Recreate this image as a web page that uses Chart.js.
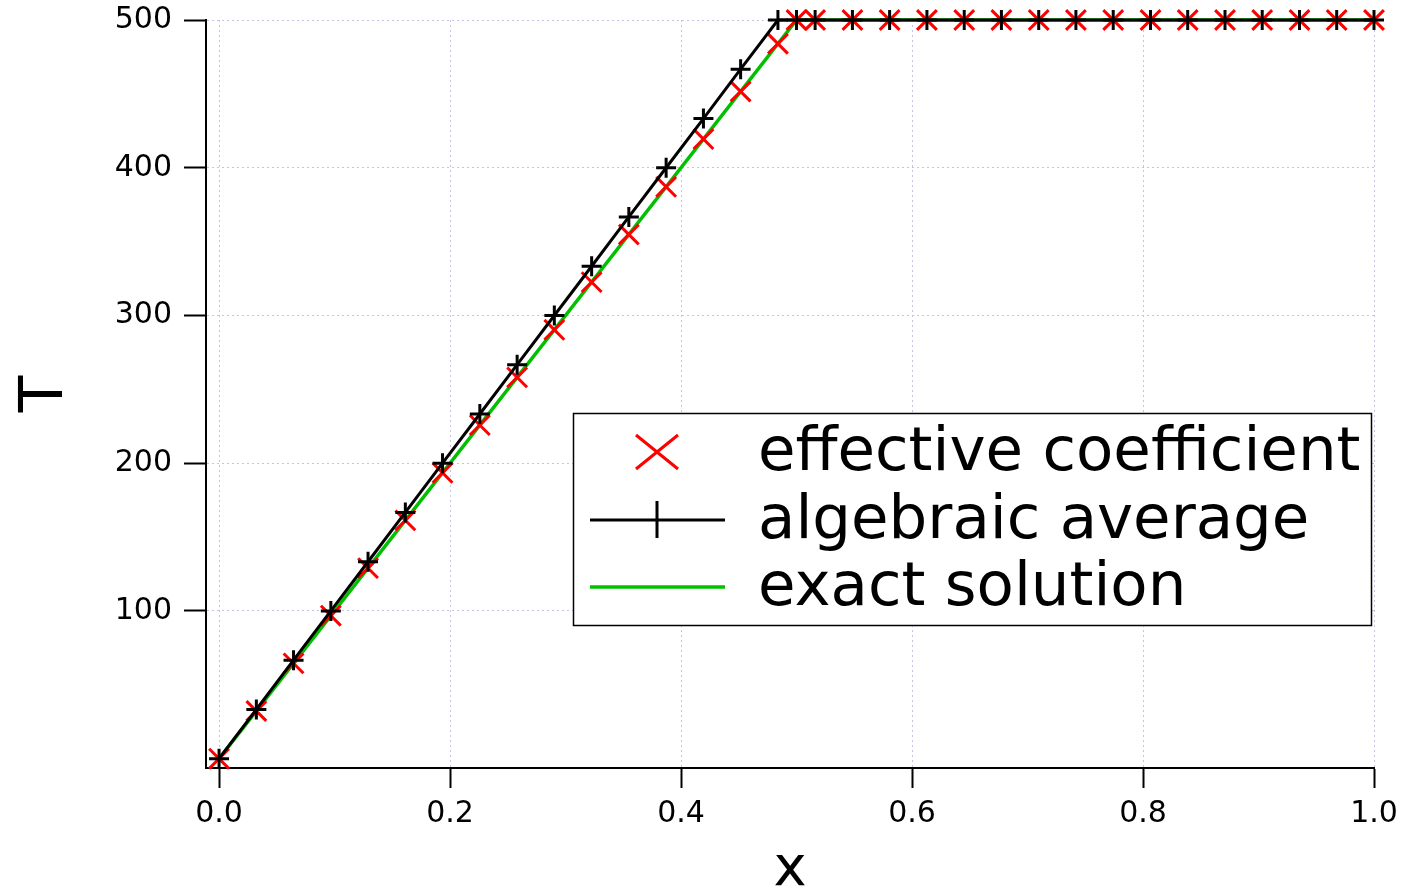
<!DOCTYPE html>
<html>
<head>
<meta charset="utf-8">
<script src="https://cdn.jsdelivr.net/npm/chart.js@4.4.0/dist/chart.umd.min.js"></script>
<style>
  html, body { margin: 0; padding: 0; background: #fff; }
  canvas { display: block; }
</style>
</head>
<body>
<canvas id="tChart" width="1406" height="889"></canvas>
<script>
// grid nodes (x) shared by the two numerical schemes
const xNodes = [0, 0.0323, 0.0645, 0.0968, 0.129, 0.1613, 0.1935, 0.2258, 0.2581, 0.2903,
  0.3226, 0.3548, 0.3871, 0.4194, 0.4516, 0.4839, 0.5, 0.5161, 0.5484, 0.5806, 0.6129,
  0.6452, 0.6774, 0.7097, 0.7419, 0.7742, 0.8065, 0.8387, 0.871, 0.9032, 0.9355, 0.9677, 1.0];

const effectiveT = [0, 32.3, 64.5, 96.8, 129, 161.3, 193.5, 225.8, 258.1, 290.3,
  322.6, 354.8, 387.1, 419.4, 451.6, 483.9, 500, 500, 500, 500, 500,
  500, 500, 500, 500, 500, 500, 500, 500, 500, 500, 500, 500];

const algebraicT = [0, 33.3, 66.7, 100, 133.3, 166.7, 200, 233.3, 266.7, 300,
  333.3, 366.7, 400, 433.3, 466.7, 500, 500, 500, 500, 500, 500,
  500, 500, 500, 500, 500, 500, 500, 500, 500, 500, 500, 500];

const exactX = [0, 0.5, 1.0];
const exactT = [0, 500, 500];

const xTicks = [0, 0.2, 0.4, 0.6, 0.8, 1.0];
const yTicks = [100, 200, 300, 400, 500];

const legendLabels = ['effective coefficient', 'algebraic average', 'exact solution'];

const FONT = '"DejaVu Sans", Verdana, sans-serif';
const GRID = '#c4c4e4';

function toPoints(xs, ys) {
  return xs.map((x, i) => ({ x: x, y: ys[i] }));
}

// legend drawn inside the plot, framed box on the right
const boxLegend = {
  id: 'boxLegend',
  afterDraw(chart) {
    const ctx = chart.ctx;
    ctx.save();
    ctx.fillStyle = '#fff';
    ctx.fillRect(573, 413, 799, 213);
    ctx.strokeStyle = '#000';
    ctx.lineWidth = 1.5;
    ctx.strokeRect(573.5, 413.5, 798, 212);

    // red x
    ctx.strokeStyle = '#ff0000';
    ctx.lineWidth = 3;
    ctx.beginPath();
    ctx.moveTo(636, 435); ctx.lineTo(678, 469);
    ctx.moveTo(636, 469); ctx.lineTo(678, 435);
    ctx.stroke();

    // black line with +
    ctx.strokeStyle = '#000';
    ctx.beginPath();
    ctx.moveTo(590, 520); ctx.lineTo(725, 520);
    ctx.moveTo(657, 501); ctx.lineTo(657, 538);
    ctx.stroke();

    // green line
    ctx.strokeStyle = '#00c000';
    ctx.lineWidth = 3.5;
    ctx.beginPath();
    ctx.moveTo(590, 587); ctx.lineTo(725, 587);
    ctx.stroke();

    ctx.fillStyle = '#000';
    ctx.font = '61px ' + FONT;
    ctx.textAlign = 'left';
    ctx.textBaseline = 'alphabetic';
    ctx.fillText(legendLabels[0], 758, 470);
    ctx.fillText(legendLabels[1], 758, 538);
    ctx.fillText(legendLabels[2], 758, 605);
    ctx.restore();
  }
};

const ctx = document.getElementById('tChart').getContext('2d');
const chart = new Chart(ctx, {
  type: 'scatter',
  data: {
    datasets: [
      {
        label: legendLabels[0],
        data: toPoints(xNodes, effectiveT),
        showLine: false,
        pointStyle: 'crossRot',
        pointRadius: 14,
        pointBorderWidth: 3,
        pointBorderColor: '#ff0000',
        borderColor: '#ff0000',
        clip: false,
        order: 1
      },
      {
        label: legendLabels[1],
        data: toPoints(xNodes, algebraicT),
        showLine: true,
        borderColor: '#000',
        borderWidth: 3,
        pointStyle: 'cross',
        pointRadius: 10,
        pointBorderWidth: 3,
        pointBorderColor: '#000',
        clip: false,
        order: 0
      },
      {
        label: legendLabels[2],
        data: toPoints(exactX, exactT),
        showLine: true,
        borderColor: '#00c000',
        borderWidth: 3.5,
        pointRadius: 0,
        clip: false,
        order: 2
      }
    ]
  },
  options: {
    responsive: false,
    animation: false,
    devicePixelRatio: 1,
    layout: { padding: { left: 0, top: 20, right: 32, bottom: 0 } },
    plugins: {
      legend: { display: false },
      tooltip: { enabled: false }
    },
    scales: {
      x: {
        type: 'linear',
        position: 'bottom',
        min: -0.0113,
        max: 1.0,
        afterBuildTicks: s => { s.ticks = xTicks.map(v => ({ value: v })); },
        afterFit: s => { s.height = 121; },
        ticks: {
          color: '#000',
          font: { family: FONT, size: 30 },
          padding: 8,
          maxRotation: 0,
          autoSkip: false,
          callback: v => v.toFixed(1)
        },
        grid: {
          color: GRID,
          lineWidth: 1,
          tickLength: 20,
          tickColor: '#000',
          tickWidth: 2,
          tickBorderDash: []
        },
        border: { display: true, color: '#000', width: 2, dash: [2, 3] },
        title: {
          display: true,
          text: 'x',
          color: '#000',
          font: { family: FONT, size: 56 },
          padding: { top: 0, bottom: -15 }
        }
      },
      y: {
        type: 'linear',
        min: -6.3,
        max: 500,
        afterBuildTicks: s => { s.ticks = yTicks.map(v => ({ value: v })); },
        afterFit: s => { s.width = 206; s.paddingTop = 0; s.paddingBottom = 0; },
        ticks: {
          color: '#000',
          font: { family: FONT, size: 30 },
          padding: 12,
          autoSkip: false
        },
        grid: {
          color: GRID,
          lineWidth: 1,
          tickLength: 22,
          tickColor: '#000',
          tickWidth: 2,
          tickBorderDash: []
        },
        border: { display: true, color: '#000', width: 2, dash: [2, 3] },
        title: {
          display: true,
          text: 'T',
          color: '#000',
          font: { family: FONT, size: 60 },
          padding: { top: 10, bottom: 0 }
        }
      }
    }
  },
  plugins: [boxLegend]
});
</script>
</body>
</html>
